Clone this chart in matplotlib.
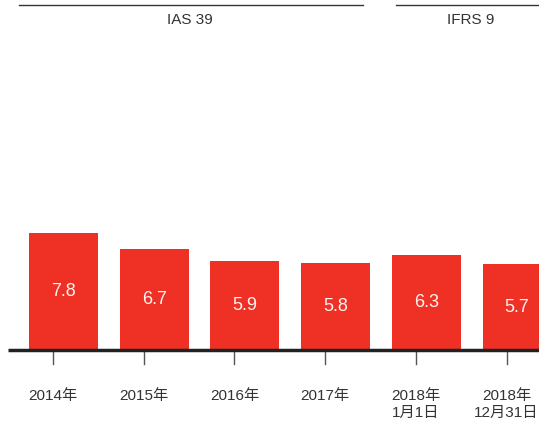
import matplotlib.pyplot as plt

# data
labels = ["2014年", "2015年", "2016年", "2017年", "2018年\n1月1日", "2018年\n12月31日"]
values = [7.8, 6.7, 5.9, 5.8, 6.3, 5.7]
groups = ["IAS 39", "IFRS 9"]

plt.rcParams['font.family'] = ['Liberation Sans', 'Noto Sans CJK SC', 'DejaVu Sans']

fig = plt.figure(figsize=(5.39, 4.22), dpi=100)
ax = fig.add_axes([0, 0, 1, 1])

red = '#ee3124'
pos = list(range(len(values)))
bar_off = 0.116
bars = ax.bar([p + bar_off for p in pos], values, width=0.76, color=red, zorder=2)

# value labels in the middle of each bar
for p, v in zip(pos, values):
    ax.text(p + bar_off, v / 2, f"{v:.1f}", ha='center', va='center',
            color='#fff4f2', fontsize=13, zorder=3)

# baseline
ax.plot([-0.5, 5.4], [0, 0], color='#222222', lw=2.5, zorder=4,
        solid_capstyle='butt', clip_on=False)

# tick marks and category labels
for p, lab in zip(pos, labels):
    ax.plot([p, p], [-0.13, -0.93], color='#555555', lw=1, zorder=1)
    ax.text(p, -2.6, lab, ha='center', va='top', color='#333333',
            fontsize=11, linespacing=1.3)

# period headers
ax.plot([-0.375, 3.418], [23.0, 23.0], color='#333333', lw=1, clip_on=False)
ax.plot([3.78, 5.4], [23.0, 23.0], color='#333333', lw=1, clip_on=False)
ax.text(1.51, 22.0, groups[0], ha='center', va='center', color='#333333', fontsize=11)
ax.text(4.6, 22.0, groups[1], ha='center', va='center', color='#333333', fontsize=11)

ax.set_xlim(-0.584, 5.358)
ax.set_ylim(-4.8, 23.33)
ax.axis('off')

fig.savefig('out.png', dpi=100)
